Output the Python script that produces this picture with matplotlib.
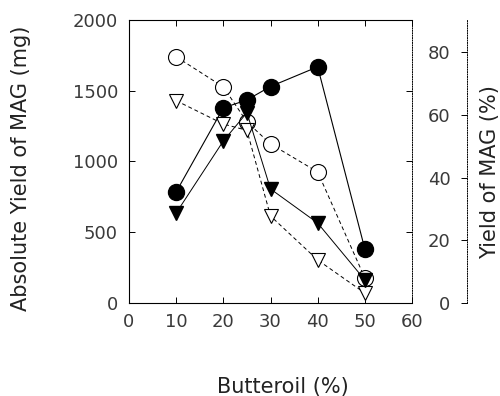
import matplotlib
matplotlib.use('Agg')
import matplotlib.pyplot as plt

# butteroil content (%)
butteroil = [10, 20, 25, 30, 40, 50]

# absolute yield (mg)
abs_yield_filled_circle = [785, 1379, 1435, 1530, 1669, 382]
abs_yield_filled_tri = [636, 1145, 1345, 806, 565, 163]
abs_yield_open_circle = [1740, 1527, 1280, 1124, 926, 177]
abs_yield_open_tri = [1430, 1265, 1220, 615, 304, 70]

x_ticks = [0, 10, 20, 30, 40, 50, 60]
left_ticks = [0, 500, 1000, 1500, 2000]
right_ticks = [0, 20, 40, 60, 80]

plt.rcParams['font.family'] = ['DejaVu Sans']

W, H = 500, 396
fig = plt.figure(figsize=(W / 100, H / 100), dpi=100)
ax = fig.add_axes([129 / W, 1 - 303 / H, 283 / W, 283 / H])

dash = (0, (4, 3))
# open symbols, dashed lines
ax.plot(butteroil, abs_yield_open_circle, linestyle=dash, color='black', lw=0.7,
        marker='o', markersize=11.5, markerfacecolor='white', markeredgecolor='black',
        markeredgewidth=0.8, zorder=2)
ax.plot(butteroil, abs_yield_open_tri, linestyle=dash, color='black', lw=0.7,
        marker='v', markersize=10, markerfacecolor='white', markeredgecolor='black',
        markeredgewidth=0.8, zorder=2)
# filled symbols, solid lines
ax.plot(butteroil, abs_yield_filled_tri, linestyle='-', color='black', lw=0.7,
        marker='v', markersize=10, markerfacecolor='black', markeredgecolor='black', zorder=3)
ax.plot(butteroil, abs_yield_filled_circle, linestyle='-', color='black', lw=0.8,
        marker='o', markersize=11.5, markerfacecolor='black', markeredgecolor='black', zorder=3)

ax.set_xlim(0, 60)
ax.set_ylim(0, 2000)
ax.set_xticks(x_ticks)
ax.set_yticks(left_ticks)
ax.tick_params(direction='in', length=4, width=0.7, labelsize=13, labelcolor='#3a3a3a',
               top=True, right=True, labelright=False, labeltop=False)
ax.tick_params(axis='x', pad=7)
ax.tick_params(axis='y', pad=8)
for s in ['left', 'bottom', 'top']:
    ax.spines[s].set_linewidth(0.8)
ax.spines['right'].set_linestyle((0, (1, 1.5)))
ax.spines['right'].set_linewidth(0.7)

# separate percent axis further right
ax3 = fig.add_axes([467 / W, 1 - 303 / H, 0.0001, 283 / H])
ax3.set_ylim(0, 90.2)
ax3.set_yticks(right_ticks)
ax3.set_xticks([])
for s in ['right', 'bottom', 'top']:
    ax3.spines[s].set_visible(False)
ax3.spines['left'].set_linestyle((0, (1, 1.5)))
ax3.spines['left'].set_linewidth(0.7)
ax3.patch.set_visible(False)
ax3.tick_params(axis='y', direction='out', length=4, width=0.7, labelsize=13,
                labelcolor='#3a3a3a', pad=8)

# axis titles
fig.text(21 / W, 1 - 168 / H, 'Absolute Yield of MAG (mg)', rotation=90,
         ha='center', va='center', fontsize=15, color='#222222')
fig.text(490 / W, 1 - 172 / H, 'Yield of MAG (%)', rotation=90,
         ha='center', va='center', fontsize=15, color='#222222')
fig.text(283 / W, 1 - 387 / H, 'Butteroil (%)', ha='center', va='center',
         fontsize=15, color='#222222')

fig.savefig('out.png', dpi=100)
